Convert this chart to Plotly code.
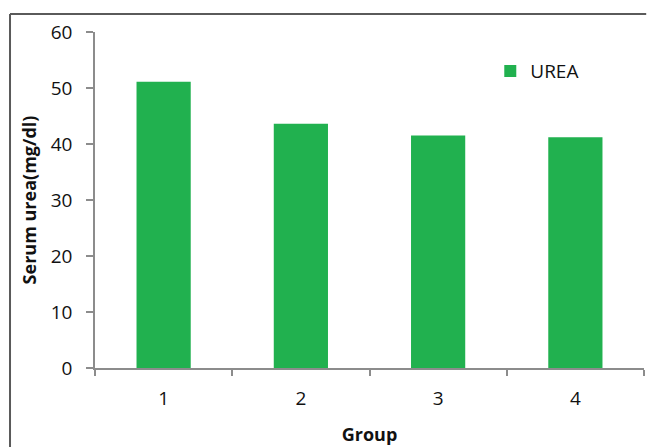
import plotly.graph_objects as go

groups = ["1", "2", "3", "4"]
urea = [51.1, 43.6, 41.5, 41.2]
y_ticks = [0, 10, 20, 30, 40, 50, 60]

bar_color = "#21b14f"
axis_color = "#8c8c8c"
frame_color = "#5a5a5a"
font_family = "Open Sans, Liberation Sans, sans-serif"

fig = go.Figure()
fig.add_trace(go.Bar(
    x=groups,
    y=urea,
    name="UREA",
    marker=dict(color=bar_color, line=dict(width=0)),
    width=0.395,
))

# outer chart frame: top and left edges, kept inside the page
frame = [
    dict(type="line", xref="paper", yref="paper",
         x0=-0.1548, x1=1.004, y0=1.0536, y1=1.0536,
         line=dict(color=frame_color, width=2)),
    dict(type="line", xref="paper", yref="paper",
         x0=-0.1548, x1=-0.1548, y0=-0.235, y1=1.0536,
         line=dict(color=frame_color, width=2)),
]

fig.update_layout(
    width=647,
    height=448,
    margin=dict(l=95, r=3, t=32, b=80),
    paper_bgcolor="white",
    plot_bgcolor="white",
    font=dict(family=font_family, size=16, color="#111111"),
    showlegend=True,
    legend=dict(
        x=0.72, y=0.94, xanchor="left", yanchor="top",
        bgcolor="rgba(0,0,0,0)",
        font=dict(size=19, color="#111111"),
        itemwidth=30,
    ),
    xaxis=dict(
        type="category",
        tickson="boundaries",
        ticks="outside",
        ticklen=6,
        tickcolor=axis_color,
        tickwidth=1.5,
        showline=True,
        linecolor=axis_color,
        linewidth=1.5,
        showgrid=False,
        tickfont=dict(size=19),
        ticklabelstandoff=12,
        title=dict(text="<b>Group</b>", font=dict(size=18), standoff=19),
    ),
    yaxis=dict(
        range=[0, 60],
        tickvals=y_ticks,
        ticks="outside",
        ticklen=7,
        tickcolor=axis_color,
        tickwidth=1.5,
        showline=True,
        linecolor=axis_color,
        linewidth=1.5,
        showgrid=False,
        zeroline=False,
        tickfont=dict(size=19),
        ticklabelstandoff=10,
        title=dict(text="<b>Serum urea(mg/dl)</b>", font=dict(size=18), standoff=9),
    ),
    shapes=frame,
)

fig.write_html("out.html")
